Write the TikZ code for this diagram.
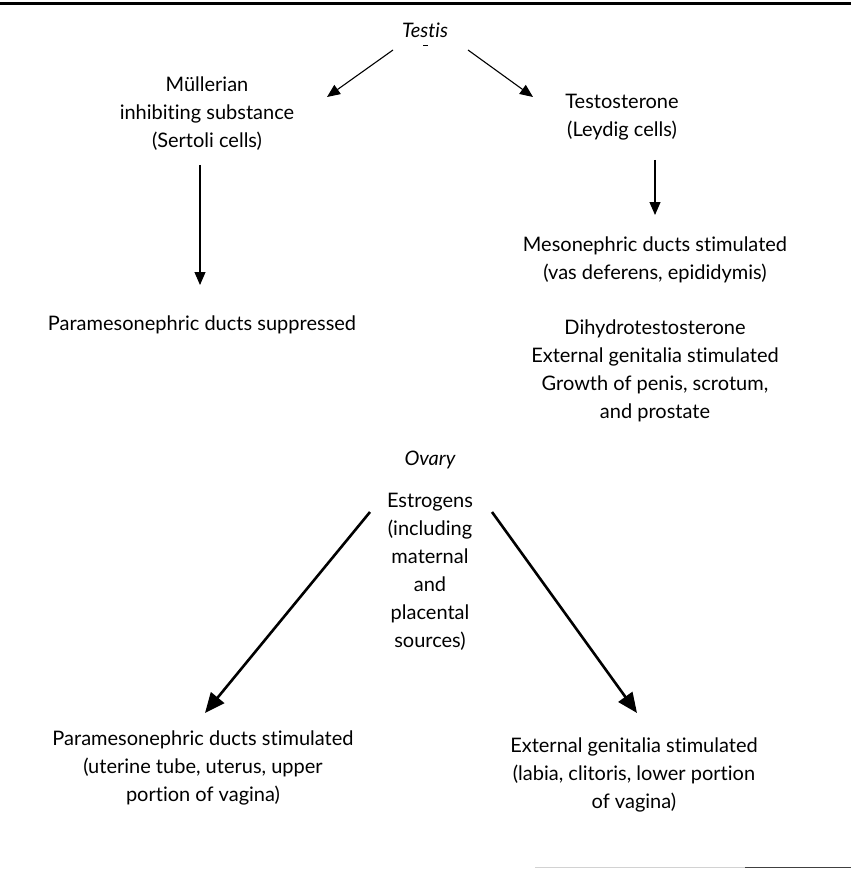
\documentclass[tikz,border=0pt]{standalone}
\usepackage{fontspec}
\setmainfont{Lato}[Ligatures={NoCommon,NoRequired,NoContextual}]
\usetikzlibrary{arrows.meta}
\begin{document}
\begin{tikzpicture}[x=1pt,y=-1pt,
  txt/.style={align=center,font=\fontsize{20}{28}\selectfont,inner sep=0pt},
  ital/.style={font=\fontsize{20}{28}\selectfont\itshape,inner sep=0pt},
  thinarrow/.style={line width=1.1pt,-{Triangle[length=13pt,width=11pt]}},
  thickarrow/.style={line width=2.6pt,-{Triangle[length=20pt,width=17pt]}}]
\useasboundingbox (0,0) rectangle (851,869);
% rules
\draw[line width=3pt] (0,4) -- (851,4);
\draw[line width=1.2pt,gray!35] (535,867.5) -- (745,867.5);
\draw[line width=1.5pt,black!75] (745,867.5) -- (851,867.5);
% nodes
\node[ital] (testis) at (425,30) {Testis};
\draw[line width=1pt] (423,46) -- (428,46);
\node[txt] (mis) at (207,114) {M\"ullerian\\inhibiting substance\\(Sertoli cells)};
\node[txt] (testo) at (622,117) {Testosterone\\(Leydig cells)};
\node[txt] (meso) at (655,260) {Mesonephric ducts stimulated\\(vas deferens, epididymis)};
\node[txt] (parasup) at (202,325) {Paramesonephric ducts suppressed};
\node[txt] (dht) at (655,371) {Dihydrotestosterone\\External genitalia stimulated\\Growth of penis, scrotum,\\and prostate};
\node[ital] (ovary) at (430,460) {Ovary};
\node[txt] (estro) at (430,572) {Estrogens\\(including\\maternal\\and\\placental\\sources)};
\node[txt] (parastim) at (203,768) {Paramesonephric ducts stimulated\\(uterine tube, uterus, upper\\portion of vagina)};
\node[txt] (extstim) at (634,775) {External genitalia stimulated\\(labia, clitoris, lower portion\\of vagina)};
% connector end points
\coordinate (t1) at (393,50);  \coordinate (t1e) at (327,97);
\coordinate (t2) at (468,50);  \coordinate (t2e) at (533,97);
\coordinate (m1) at (200,165); \coordinate (m1e) at (200,285);
\coordinate (l1) at (655,160); \coordinate (l1e) at (655,215);
\coordinate (e1) at (370,512); \coordinate (e1e) at (205,713);
\coordinate (e2) at (492,512); \coordinate (e2e) at (637,713);
% connectors
\draw[thinarrow] (t1) -- (t1e);
\draw[thinarrow] (t2) -- (t2e);
\draw[thinarrow] (m1) -- (m1e);
\draw[thinarrow] (l1) -- (l1e);
\draw[thickarrow] (e1) -- (e1e);
\draw[thickarrow] (e2) -- (e2e);
\end{tikzpicture}
\end{document}
